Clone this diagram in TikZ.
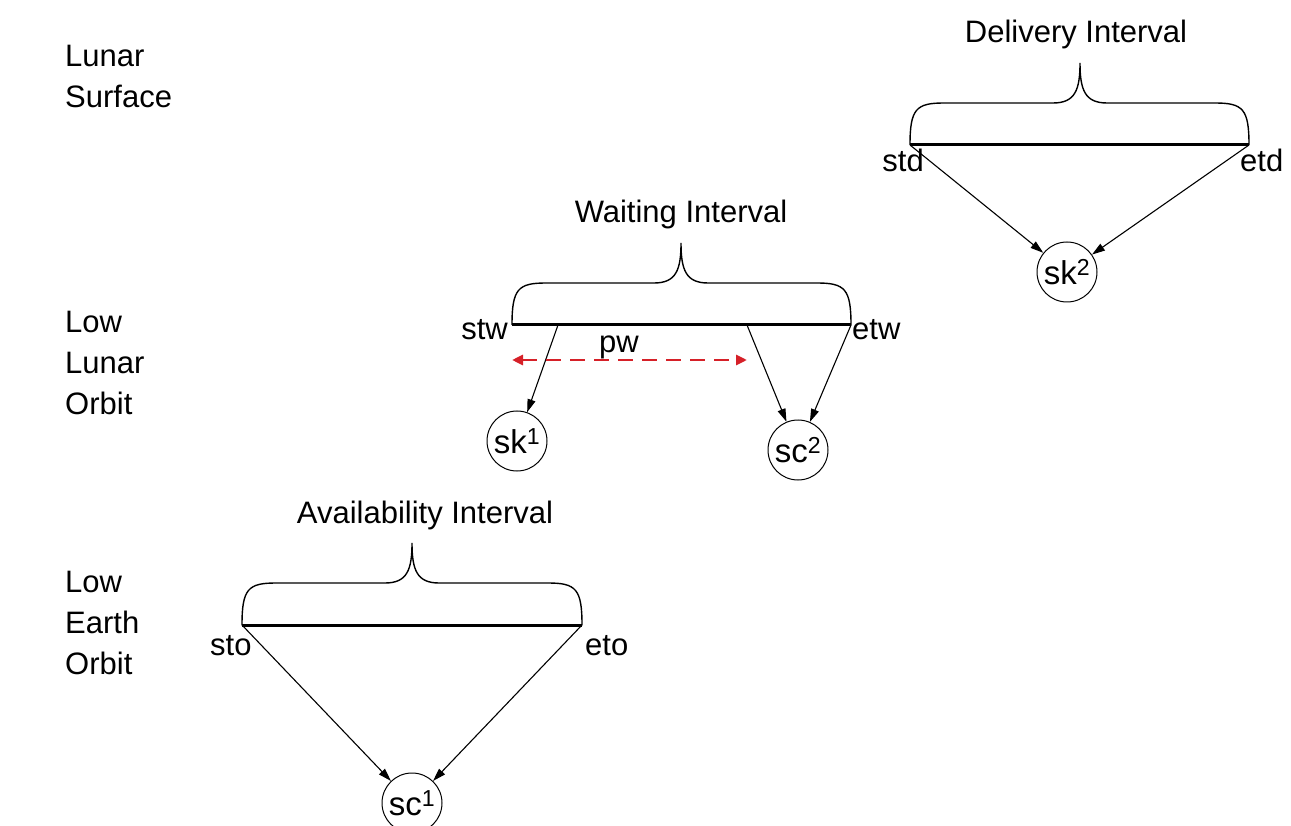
\documentclass[tikz,border=0pt]{standalone}
\usepackage{fontspec}
\setmainfont{Liberation Sans}
\usetikzlibrary{arrows.meta}

% curly brace over an interval bar: #1 left x, #2 right x, #3 bar y, #4 tip x
\newcommand{\ivbrace}[4]{%
  \draw[bracepath] (#1,#3)
    .. controls (#1,#3-36) and (#1+6,#3-42) .. (#1+34,#3-42)
    -- (#4-27,#3-42)
    .. controls (#4-5,#3-42) and (#4,#3-55) .. (#4,#3-82)
    .. controls (#4,#3-55) and (#4+5,#3-42) .. (#4+27,#3-42)
    -- (#2-34,#3-42)
    .. controls (#2-6,#3-42) and (#2,#3-36) .. (#2,#3);}

\begin{document}
\begin{tikzpicture}[x=1pt,y=-1pt,
  txt/.style={font=\fontsize{31}{41}\selectfont, inner sep=0pt},
  level/.style={txt, align=left, anchor=north west},
  title/.style={txt, anchor=base},
  state/.style={draw, circle, line width=1pt, minimum size=60pt, inner sep=0pt,
                font=\fontsize{33}{34}\selectfont},
  bar/.style={line width=3pt},
  bracepath/.style={line width=1.4pt},
  link/.style={line width=1.1pt, -{Triangle[length=13pt,width=8pt]}},
  span/.style={draw={rgb,255:red,214;green,32;blue,40}, dash pattern=on 15pt off 9pt,
               line width=2.8pt,
               {Triangle[length=11pt,width=10pt]}-{Triangle[length=11pt,width=10pt]}},
]
\useasboundingbox (0,0) rectangle (1291,826);

% orbit levels
\node[level] (ls)  at (65,45)  {Lunar\\Surface};
\node[level] (llo) at (65,311) {Low\\Lunar\\Orbit};
\node[level] (leo) at (65,571) {Low\\Earth\\Orbit};

% delivery interval
\coordinate (tdS) at (910,145);
\coordinate (tdE) at (1249,145);
\ivbrace{910}{1249}{145}{1080}
\draw[bar] (tdS) -- (tdE);
\node[title] (dtitle) at (1076,43) {Delivery Interval};
\node[txt, anchor=base east] (std) at (924,172) {std};
\node[txt, anchor=base west] (etd) at (1240,172) {etd};
\node[state] (sk2) at (1067,272) {sk\textsuperscript{2}};
\draw[link] (tdS) -- (sk2);
\draw[link] (tdE) -- (sk2);

% waiting interval
\coordinate (twS) at (512,325);
\coordinate (twE) at (851,325);
\coordinate (tw1) at (558,325);
\coordinate (tw2) at (747,325);
\ivbrace{512}{851}{325}{681}
\draw[bar] (twS) -- (twE);
\node[title] (wtitle) at (681,223) {Waiting Interval};
\node[txt, anchor=base east] (stw) at (508,340) {stw};
\node[txt, anchor=base west] (etw) at (852,340) {etw};
\node[state] (sk1) at (517,441) {sk\textsuperscript{1}};
\node[state] (sc2) at (798,450) {sc\textsuperscript{2}};
\draw[link] (tw1) -- (sk1);
\draw[link] (tw2) -- (sc2);
\draw[link] (twE) -- (sc2);
\node[txt, anchor=base] (pw) at (619,353) {pw};
\coordinate (pwL) at (512,360);
\coordinate (pwR) at (747,360);
\draw[span] (pwL) -- (pwR);

% availability interval
\coordinate (toS) at (242,625);
\coordinate (toE) at (582,625);
\ivbrace{242}{582}{625}{412}
\draw[bar] (toS) -- (toE);
\node[title] (atitle) at (425,523) {Availability Interval};
\node[txt, anchor=base west] (sto) at (210,655) {sto};
\node[txt, anchor=base west] (eto) at (585,655) {eto};
\node[state] (sc1) at (412,803) {sc\textsuperscript{1}};
\draw[link] (toS) -- (sc1);
\draw[link] (toE) -- (sc1);
\end{tikzpicture}
\end{document}
